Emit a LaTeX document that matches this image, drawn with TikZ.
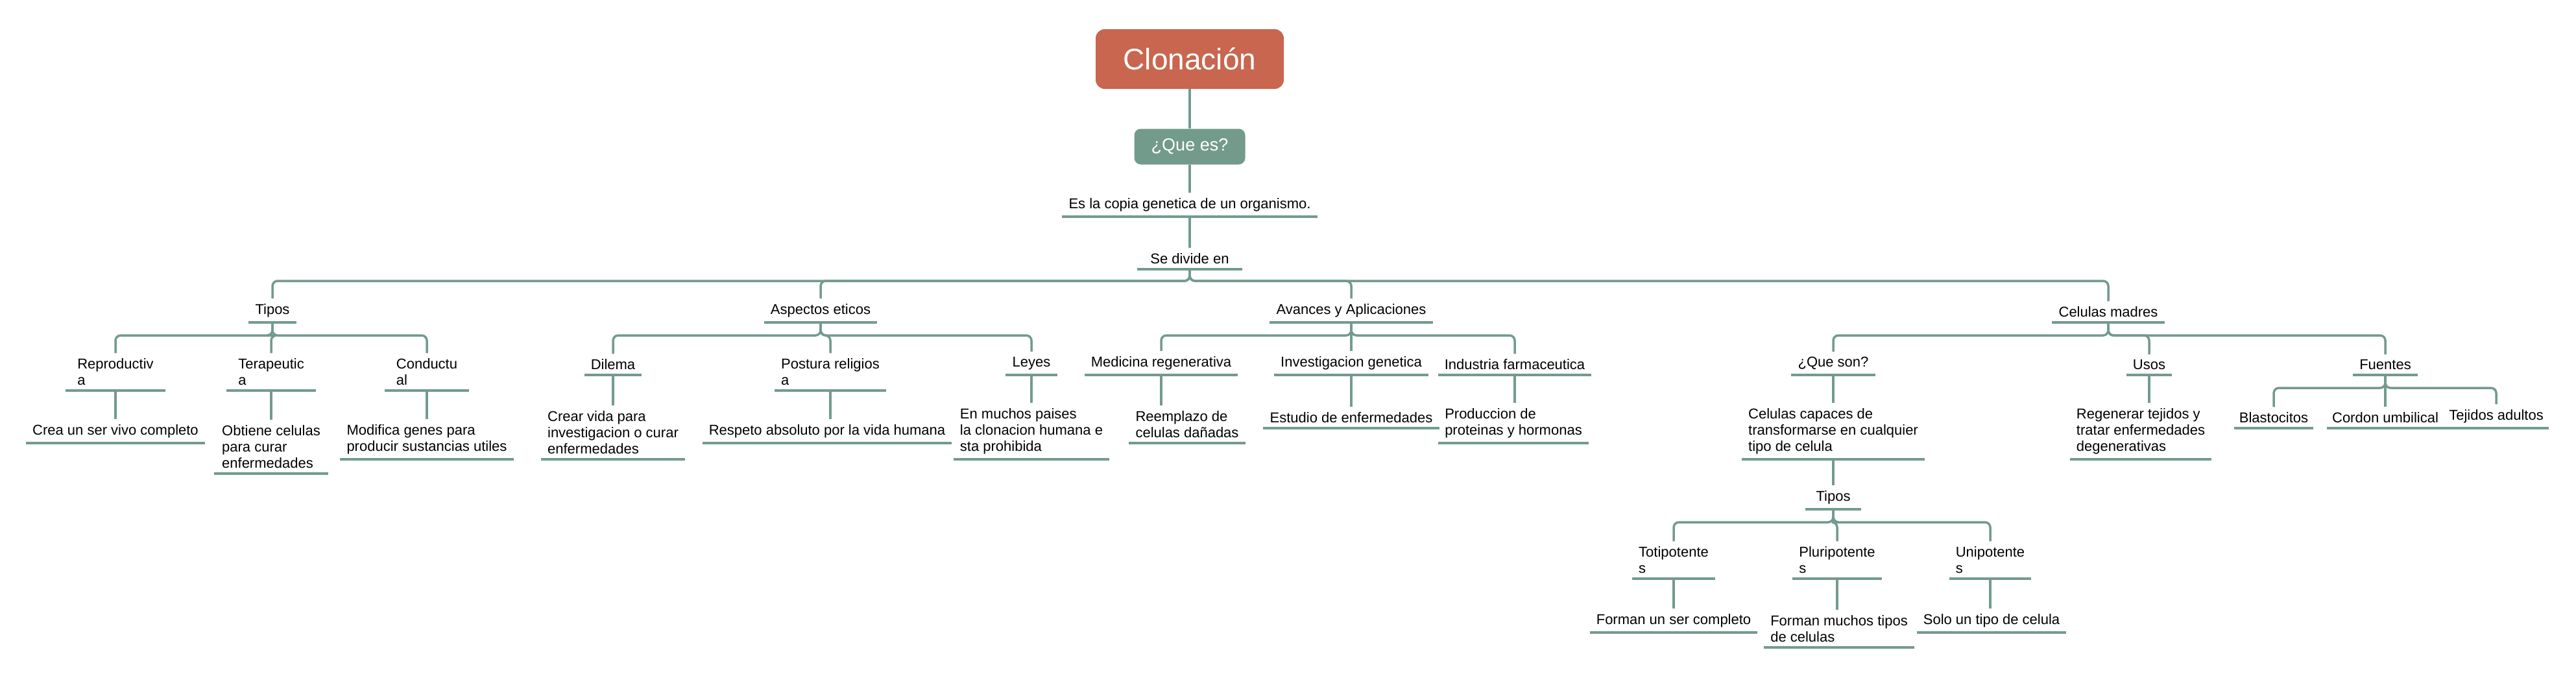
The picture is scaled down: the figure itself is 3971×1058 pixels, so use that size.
\documentclass[tikz,border=0pt]{standalone}
\usepackage{fontspec}
\setmainfont{Liberation Sans}
\definecolor{ln}{HTML}{739B8C}
\definecolor{rt}{HTML}{C8664F}
\begin{document}
\begin{tikzpicture}[x=1pt,y=-1pt,
  conn/.style={draw=ln,line width=3.5pt,rounded corners=8pt},
  lab/.style={anchor=south,align=left,inner xsep=10pt,inner ysep=8pt,font=\fontsize{22}{25}\selectfont,
    append after command={(\tikzlastnode.south west) edge[draw=ln,line width=4pt] (\tikzlastnode.south east)}}]
\useasboundingbox (0,0) rectangle (3971,1058);
\node[fill=rt,rounded corners=14pt,text=white,minimum width=290,minimum height=92,font=\fontsize{46}{50}\selectfont] (root) at (1834,91) {Clonación};
\node[fill=ln,rounded corners=10pt,text=white,minimum width=171,minimum height=55,font=\fontsize{27}{30}\selectfont] (que) at (1834,226) {¿Que es?};
\node[lab,inner xsep=10pt] (def) at (1834,334) {Es la copia genetica de un organismo.};
\node[lab,inner xsep=20pt] (div) at (1834,415) {Se divide en};
\draw[conn] (root.south) -- (que.north);
\draw[conn] (que.south) -- (def.north);
\draw[conn] (def.south) -- (div.north);
% level 1
\node[lab] (tipos) at (420,497) {Tipos};
\node[lab] (asp) at (1265,497) {Aspectos eticos};
\node[lab] (av) at (2083,497) {Avances y Aplicaciones};
\node[lab] (cm) at (3250,497) {Celulas madres};
\foreach \c in {tipos,asp,av,cm} \draw[conn] (div.south) -- ++(0,18) -| (\c.north);
% Tipos
\node[lab,inner xsep=18pt] (rep) at (178,602) {Reproductiv\\a};
\node[lab,inner xsep=18pt] (ter) at (418,602) {Terapeutic\\a};
\node[lab,inner xsep=18pt] (con) at (658,602) {Conductu\\al};
\foreach \c in {rep,ter,con} \draw[conn] (tipos.south) -- ++(0,20) -| (\c.north);
\node[lab] (rep1) at (178,683) {Crea un ser vivo completo};
\node[lab,inner xsep=12pt] (ter1) at (418,730) {Obtiene celulas\\para curar\\enfermedades};
\node[lab] (con1) at (658,708) {Modifica genes para\\producir sustancias utiles};
\draw[conn] (rep.south) -- (rep1.north);
\draw[conn] (ter.south) -- (ter1.north);
\draw[conn] (con.south) -- (con1.north);
% Aspectos
\node[lab] (dil) at (945,578) {Dilema};
\node[lab] (pos) at (1280,602) {Postura religios\\a};
\node[lab] (ley) at (1590,578) {Leyes};
\foreach \c in {dil,pos,ley} \draw[conn] (asp.south) -- ++(0,20) -| (\c.north);
\node[lab] (dil1) at (945,708) {Crear vida para\\investigacion o curar\\enfermedades};
\node[lab] (pos1) at (1275,683) {Respeto absoluto por la vida humana};
\node[lab] (ley1) at (1590,708) {En muchos paises\\la clonacion humana e\\sta prohibida};
\draw[conn] (dil.south) -- (dil.south |- dil1.north);
\draw[conn] (pos.south) -- (pos.south |- pos1.north);
\draw[conn] (ley.south) -- (ley.south |- ley1.north);
% Avances
\node[lab] (med) at (1790,578) {Medicina regenerativa};
\node[lab] (inv) at (2083,578) {Investigacion genetica};
\node[lab] (ind) at (2335,578) {Industria farmaceutica};
\foreach \c in {med,inv,ind} \draw[conn] (av.south) -- ++(0,20) -| (\c.north);
\node[lab] (med1) at (1830,683) {Reemplazo de\\celulas dañadas};
\node[lab] (inv1) at (2083,660) {Estudio de enfermedades};
\node[lab] (ind1) at (2333,683) {Produccion de\\proteinas y hormonas};
\draw[conn] (med.south) -- (med.south |- med1.north);
\draw[conn] (inv.south) -- (inv1.north);
\draw[conn] (ind.south) -- (ind.south |- ind1.north);
% Celulas madres
\node[lab] (qs) at (2826,578) {¿Que son?};
\node[lab] (usos) at (3313,578) {Usos};
\node[lab] (fue) at (3677,578) {Fuentes};
\foreach \c in {qs,usos,fue} \draw[conn] (cm.south) -- ++(0,20) -| (\c.north);
\node[lab] (qs1) at (2826,708) {Celulas capaces de\\transformarse en cualquier\\tipo de celula};
\draw[conn] (qs.south) -- (qs.south |- qs1.north);
\node[lab,inner xsep=16pt] (tip2) at (2826,785) {Tipos};
\draw[conn] (qs1.south -| qs.south) -- (tip2.north);
\node[lab] (tot) at (2580,892) {Totipotente\\s};
\node[lab] (plu) at (2832,892) {Pluripotente\\s};
\node[lab] (uni) at (3068,892) {Unipotente\\s};
\foreach \c in {tot,plu,uni} \draw[conn] (tip2.south) -- ++(0,20) -| (\c.north);
\node[lab] (tot1) at (2580,975) {Forman un ser completo};
\node[lab] (plu1) at (2835,998) {Forman muchos tipos\\de celulas};
\node[lab] (uni1) at (3070,975) {Solo un tipo de celula};
\draw[conn] (tot.south) -- (tot.south |- tot1.north);
\draw[conn] (plu.south) -- (plu.south |- plu1.north);
\draw[conn] (uni.south) -- (uni.south |- uni1.north);
\node[lab] (usos1) at (3300,708) {Regenerar tejidos y\\tratar enfermedades\\degenerativas};
\draw[conn] (usos.south) -- (usos.south |- usos1.north);
\node[lab,inner xsep=8pt] (bla) at (3505,660) {Blastocitos};
\node[lab,inner xsep=8pt] (cor) at (3677,660) {Cordon umbilical};
\node[lab,inner xsep=8pt] (tej) at (3848,660) {Tejidos adultos};
\foreach \c in {bla,cor,tej} \draw[conn] (fue.south) -- ++(0,20) -| (\c.north);
\end{tikzpicture}
\end{document}
